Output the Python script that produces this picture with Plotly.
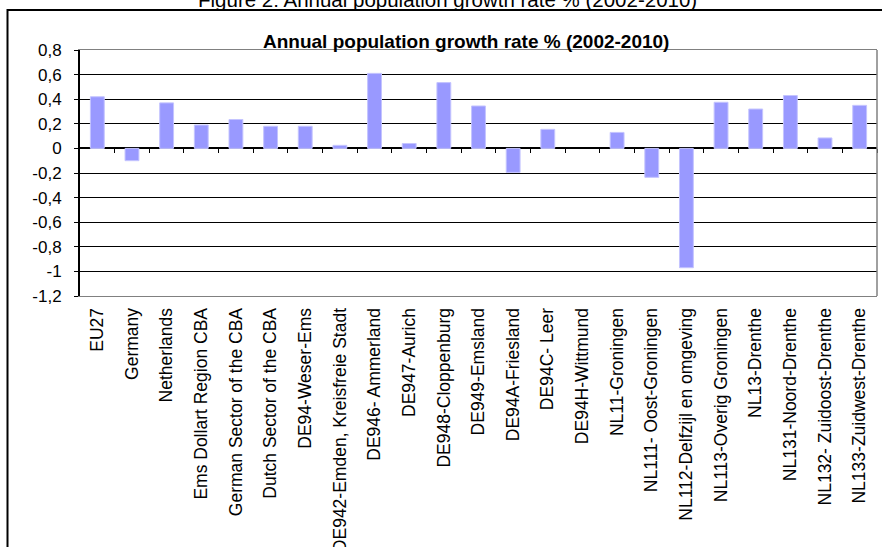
import plotly.graph_objects as go

categories = [
    "EU27", "Germany", "Netherlands", "Ems Dollart Region CBA",
    "German Sector of the CBA", "Dutch Sector of the CBA", "DE94-Weser-Ems",
    "DE942-Emden, Kreisfreie Stadt", "DE946- Ammerland", "DE947-Aurich",
    "DE948-Cloppenburg", "DE949-Emsland", "DE94A-Friesland", "DE94C- Leer",
    "DE94H-Wittmund", "NL11-Groningen", "NL111- Oost-Groningen",
    "NL112-Delfzijl en omgeving", "NL113-Overig Groningen", "NL13-Drenthe",
    "NL131-Noord-Drenthe", "NL132- Zuidoost-Drenthe", "NL133-Zuidwest-Drenthe",
]
values = [
    0.42, -0.10, 0.37, 0.19, 0.235, 0.18, 0.18, 0.025, 0.61, 0.04,
    0.535, 0.345, -0.195, 0.155, 0.0, 0.13, -0.235, -0.97, 0.375,
    0.32, 0.43, 0.085, 0.35,
]
y_tickvals = [0.8, 0.6, 0.4, 0.2, 0, -0.2, -0.4, -0.6, -0.8, -1, -1.2]
y_ticktext = ["0,8", "0,6", "0,4", "0,2", "0", "-0,2", "-0,4", "-0,6", "-0,8", "-1", "-1,2"]
fig_title = "Figure 2: Annual population growth rate % (2002-2010)"
chart_title = "Annual population growth rate % (2002-2010)"

FONT = "Arial, Liberation Sans, sans-serif"
W, H = 882, 547
L, R, T, B = 80, 5, 50, 251
pw, ph = W - L - R, H - T - B

def px_x(p):
    return (p - L) / pw

def px_y(p):
    return (H - B - p) / ph

n = len(categories)
ymin, ymax = -1.2, 0.8

fig = go.Figure()
fig.add_trace(go.Bar(
    x=list(range(n)), y=values,
    marker=dict(color="#9999ff",
                line=dict(color="#c4c4ff", width=[0 if v == 0 else 1 for v in values])),
    showlegend=False, hoverinfo="skip",
))
fig.add_trace(go.Scatter(
    x=[0], y=[0], xaxis="x2", mode="markers",
    marker=dict(opacity=0), showlegend=False, hoverinfo="skip",
))

fig.update_layout(
    width=W, height=H,
    margin=dict(l=L, r=R, t=T, b=B, autoexpand=False),
    paper_bgcolor="white", plot_bgcolor="white",
    font=dict(family=FONT, color="black"),
    bargap=0.6,
    xaxis=dict(
        range=[-0.5, n - 0.5],
        tickmode="array", tickvals=list(range(n)), ticktext=categories,
        tickangle=-90, tickfont=dict(size=17.5, family=FONT),
        ticks="", showgrid=False, zeroline=False,
        showline=True, linecolor="#808080", linewidth=1, mirror=True,
        automargin=False, ticklabelstandoff=4,
    ),
    xaxis2=dict(
        overlaying="x", anchor="free",
        position=(0 - ymin) / (ymax - ymin),
        range=[-0.5, n - 0.5],
        tickmode="array", tickvals=[i + 0.5 for i in range(n)],
        ticks="outside", ticklen=4, tickwidth=1, tickcolor="black",
        showticklabels=False, showgrid=False, zeroline=False, showline=False,
    ),
    yaxis=dict(
        range=[ymin, ymax],
        tickmode="array", tickvals=y_tickvals, ticktext=y_ticktext,
        tickfont=dict(size=17, family=FONT),
        ticks="outside", ticklen=4, tickwidth=1, tickcolor="black",
        showgrid=True, gridcolor="black", gridwidth=1,
        zeroline=True, zerolinecolor="black", zerolinewidth=2,
        showline=True, linecolor="black", linewidth=2,
        automargin=False, ticklabelstandoff=9,
    ),
    shapes=[
        dict(type="line", xref="paper", yref="paper", x0=1, x1=1, y0=0, y1=1,
             line=dict(color="#808080", width=1.5)),
        dict(type="path", xref="paper", yref="paper",
             path=f"M {px_x(7.5)} {px_y(548)} L {px_x(7.5)} {px_y(10)} L {px_x(883)} {px_y(10)}",
             line=dict(color="black", width=2)),
    ],
    annotations=[
        dict(text="<b>" + chart_title + "</b>", xref="paper", yref="paper",
             x=px_x(466), y=px_y(53), xanchor="center", yanchor="bottom",
             showarrow=False, font=dict(size=19, family=FONT, color="black"),
             borderpad=0),
        dict(text=fig_title, xref="paper", yref="paper",
             x=px_x(447), y=px_y(12), xanchor="center", yanchor="bottom",
             showarrow=False, font=dict(size=20.5, family=FONT, color="black"),
             borderpad=0),
    ],
)

fig.write_html("out.html")
